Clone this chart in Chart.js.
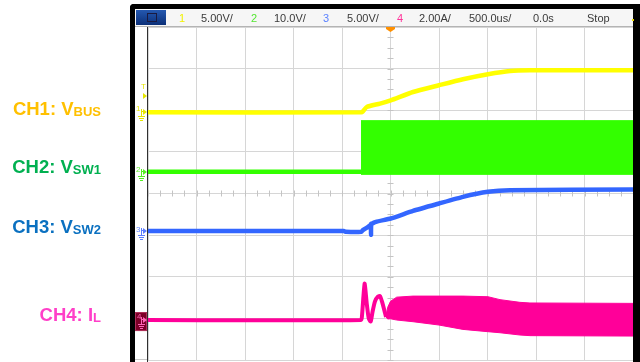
<!DOCTYPE html>
<html>
<head>
<meta charset="utf-8">
<script src="https://cdn.jsdelivr.net/npm/chart.js@4.4.0/dist/chart.umd.min.js"></script>
<style>
  html, body { margin:0; padding:0; background:#fff; }
  #wrap { position:relative; width:640px; height:362px; overflow:hidden; font-family:"Liberation Sans", Arial, sans-serif; }
  #scope { position:absolute; left:0; top:0; }
  #frame { position:absolute; left:130px; top:4px; width:510px; height:370px; box-sizing:border-box;
           border-left:5px solid #000; border-top:5px solid #000; border-right:7px solid #000; border-top-left-radius:4px; }
  .lbl { position:absolute; left:0; width:101px; text-align:right; font-weight:bold; font-size:18.5px; line-height:20px; white-space:nowrap; }
  .lbl sub { font-size:13px; vertical-align:-1px; line-height:0; }
  #bar { position:absolute; left:135px; top:9px; width:498px; height:17px; background:#f6f6f6; border-bottom:1px solid #b4b4b4; }
  #logo { position:absolute; left:1px; top:1px; width:30px; height:15px; background:linear-gradient(#2458b0, #0b2f78); }
  #logo div { position:absolute; left:11px; top:3px; width:8px; height:7px; border:1px solid #1a1a40; }
  .bt { position:absolute; top:3px; font-size:11px; line-height:12px; color:#3a3a3a; white-space:nowrap; }
  .mk { position:absolute; font-size:8px; line-height:8px; }
</style>
</head>
<body>
<div id="wrap">
  <canvas id="scope" width="640" height="362"></canvas>
  <div id="frame"></div>
  <div id="bar">
    <div id="logo"><div></div></div>
    <span class="bt" style="left:44px;color:#f2f200">1</span>
    <span class="bt" style="left:66px">5.00V/</span>
    <span class="bt" style="left:116px;color:#55e633">2</span>
    <span class="bt" style="left:139px">10.0V/</span>
    <span class="bt" style="left:188px;color:#5b82ff">3</span>
    <span class="bt" style="left:212px">5.00V/</span>
    <span class="bt" style="left:262px;color:#ff3399">4</span>
    <span class="bt" style="left:284px">2.00A/</span>
    <span class="bt" style="left:334px">500.0us/</span>
    <span class="bt" style="left:398px">0.0s</span>
    <span class="bt" style="left:452px">Stop</span>
    <div style="position:absolute;left:497px;top:10px;width:2px;height:2px;background:#e8d800"></div>
  </div>

  <div class="lbl" style="top:99px;color:#ffc000">CH1: V<sub>BUS</sub></div>
  <div class="lbl" style="top:157px;color:#00b050">CH2: V<sub>SW1</sub></div>
  <div class="lbl" style="top:217px;color:#0a70c0">CH3: V<sub>SW2</sub></div>
  <div class="lbl" style="top:305px;color:#ff3fc8">CH4: I<sub>L</sub></div>

  <span class="mk" style="left:141px;top:83px;color:#e6e600">T</span>
  <span class="mk" style="left:136px;top:105px;color:#e6e600">1</span>
  <span class="mk" style="left:136px;top:166px;color:#66ee33">2</span>
  <span class="mk" style="left:136px;top:226px;color:#6688ff">3</span>
  <span class="mk" style="left:137px;top:313px;color:#ff66b8">4</span>
</div>
<script>
// time base 500 us/div, trigger at screen centre
const timeMin = -2500, timeMax = 2500, timeStep = 500;
const divMin = -4, divMax = 4;

// per channel: units per division, ground position (div), trace colour
const chScale  = [5, 10, 5, 2];
const chOffset = [1.95, 0.52, -0.9, -3.04];
const chColor  = ['#ffff00', '#33ff00', '#3366ff', '#ff0099'];
const trigLevel = 2.0; // CH1, volts

// CH1 VBUS (V)
const ch1Time  = [-2500, -300, -284, -245, -108, 2, 232, 500, 747, 1005, 1232, 1438, 2500];
const ch1Value = [0, 0, 0.12, 0.64, 1.05, 1.44, 2.44, 3.25, 3.97, 4.57, 4.96, 5.04, 5.04];

// CH2 VSW1 (V): idle, then switching envelope
const ch2IdleTime  = [-2500, -304];
const ch2IdleValue = [0, 0];
const ch2BandTime  = [-304, 2500];
const ch2BandHigh  = [12.3, 12.3];
const ch2BandLow   = [-0.6, -0.6];

// CH3 VSW2 (V)
const ch3Time  = [-2500, -480, -460, -300, -285, -230, -205, -201, -201, -197, -150, 2, 232, 500, 747, 1005, 1232, 2500];
const ch3Value = [0, 0, -0.1, -0.1, 0.1, 0.5, 0.7, 0.85, -0.45, 0.8, 1.1, 1.5, 2.41, 3.3, 4.1, 4.7, 4.9, 4.98];

// CH4 IL (A): start-up ringing, then ripple envelope
const ch4Time  = [-2500, -304, -294, -278, -266, -245, -225, -204, -185, -160, -130, -108, -85, -60, -46];
const ch4Value = [0, 0, 0.2, 1.2, 1.75, 0.8, 0.1, -0.07, 0.4, 0.9, 1.12, 1.15, 0.85, 0.4, 0.15];
const ch4BandTime = [-46, -30, 0, 64, 232, 500, 747, 1005, 1129, 1335, 1438, 2500];
const ch4BandHigh = [0.15, 0.6, 0.9, 1.1, 1.15, 1.15, 1.15, 1.12, 0.98, 0.85, 0.82, 0.8];
const ch4BandLow  = [0.15, 0.05, 0.06, 0.0, -0.08, -0.24, -0.45, -0.56, -0.61, -0.72, -0.75, -0.77];

const toPoints = (times, values, ch) => times.map((t, i) => ({ x: t, y: chOffset[ch] + values[i] / chScale[ch] }));

const line = (data, ch, w, tension) => ({
  data, borderColor: chColor[ch], borderWidth: w, pointRadius: 0, tension: tension || 0,
  borderJoinStyle: 'round', fill: false
});
const band = (data, ch, fill) => ({
  data, borderColor: chColor[ch], backgroundColor: chColor[ch], borderWidth: 1, pointRadius: 0,
  tension: 0, fill: fill
});

// grid ticks on centre axes, edge line, channel markers, trigger marker
const scopeDecor = {
  id: 'scopeDecor',
  beforeDatasetsDraw(chart) {
    const { ctx, chartArea: a, scales: { x, y } } = chart;
    const cx = x.getPixelForValue(0), cy = y.getPixelForValue(0);
    ctx.save();
    ctx.strokeStyle = '#c4c4c4'; ctx.lineWidth = 1;
    ctx.beginPath();
    for (let t = timeMin; t <= timeMax; t += timeStep / 4) {
      const px = Math.round(x.getPixelForValue(t)) + 0.5;
      ctx.moveTo(px, cy - 3); ctx.lineTo(px, cy + 3);
    }
    for (let d = divMin; d <= divMax; d += 0.25) {
      const py = Math.round(y.getPixelForValue(d)) + 0.5;
      ctx.moveTo(cx - 3, py); ctx.lineTo(cx + 3, py);
    }
    ctx.stroke();
    ctx.strokeStyle = '#c8c8c8';
    ctx.beginPath(); ctx.moveTo(135, a.bottom - 0.5); ctx.lineTo(a.left, a.bottom - 0.5); ctx.stroke();
    ctx.strokeStyle = '#303030';
    ctx.beginPath(); ctx.moveTo(a.left - 0.5, a.top); ctx.lineTo(a.left - 0.5, chart.height); ctx.stroke();
    ctx.restore();
  },
  afterDraw(chart) {
    const { ctx, chartArea: a, scales: { x, y } } = chart;
    ctx.save();
    // CH4 marker box
    const y4 = y.getPixelForValue(chOffset[3]);
    ctx.fillStyle = '#7d0028'; ctx.strokeStyle = '#b0305a';
    ctx.fillRect(135, y4 - 8, 12, 19); ctx.strokeRect(135.5, y4 - 7.5, 11, 18);
    const mcol = ['#e6e600', '#55ee22', '#5b7cff', '#ff66b8'];
    chOffset.forEach((off, i) => {
      const py = Math.round(y.getPixelForValue(off));
      ctx.fillStyle = mcol[i]; ctx.strokeStyle = mcol[i]; ctx.lineWidth = 1;
      ctx.beginPath(); ctx.moveTo(143, py - 3); ctx.lineTo(147, py); ctx.lineTo(143, py + 3); ctx.closePath(); ctx.fill();
      ctx.beginPath();
      ctx.moveTo(141.5, py - 3); ctx.lineTo(141.5, py + 4);
      ctx.moveTo(141.5, py - 0.5); ctx.lineTo(144, py - 0.5);
      ctx.moveTo(138, py + 4.5); ctx.lineTo(145, py + 4.5);
      ctx.moveTo(139, py + 6.5); ctx.lineTo(144, py + 6.5);
      ctx.moveTo(140, py + 8.5); ctx.lineTo(143, py + 8.5);
      ctx.stroke();
    });
    // trigger level (CH1)
    const pt = Math.round(y.getPixelForValue(chOffset[0] + trigLevel / chScale[0]));
    ctx.fillStyle = '#e6e600';
    ctx.beginPath(); ctx.moveTo(143, pt - 3); ctx.lineTo(147, pt); ctx.lineTo(143, pt + 3); ctx.closePath(); ctx.fill();
    // trigger time marker
    const tx = x.getPixelForValue(0);
    ctx.fillStyle = '#ff9000';
    ctx.beginPath(); ctx.moveTo(tx - 4.5, a.top); ctx.lineTo(tx + 4.5, a.top); ctx.lineTo(tx + 4.5, a.top + 2);
    ctx.lineTo(tx, a.top + 5); ctx.lineTo(tx - 4.5, a.top + 2); ctx.closePath(); ctx.fill();
    ctx.restore();
  }
};

new Chart(document.getElementById('scope').getContext('2d'), {
  type: 'line',
  data: {
    datasets: [
      line(toPoints(ch1Time, ch1Value, 0), 0, 4.5, 0.2),
      line(toPoints(ch2IdleTime, ch2IdleValue, 1), 1, 4.5),
      band(toPoints(ch2BandTime, ch2BandHigh, 1), 1, '+1'),
      band(toPoints(ch2BandTime, ch2BandLow, 1), 1, false),
      line(toPoints(ch3Time, ch3Value, 2), 2, 4.5, 0.15),
      line(toPoints(ch4Time, ch4Value, 3), 3, 4, 0.2),
      band(toPoints(ch4BandTime, ch4BandHigh, 3), 3, '+1'),
      band(toPoints(ch4BandTime, ch4BandLow, 3), 3, false)
    ]
  },
  options: {
    responsive: false, animation: false, events: [],
    layout: { padding: { left: 148, right: 7, top: 27, bottom: 2 } },
    plugins: { legend: { display: false }, tooltip: { enabled: false }, title: { display: false } },
    scales: {
      x: {
        type: 'linear', min: timeMin, max: timeMax,
        ticks: { display: false, stepSize: timeStep },
        grid: { color: '#d6d6d6', lineWidth: 1, drawTicks: false },
        border: { display: false },
        afterFit: s => { s.height = 0; }
      },
      y: {
        min: divMin, max: divMax,
        ticks: { display: false, stepSize: 1 },
        grid: { color: '#d6d6d6', lineWidth: 1, drawTicks: false },
        border: { display: false },
        afterFit: s => { s.width = 0; }
      }
    }
  },
  plugins: [scopeDecor]
});
</script>
</body>
</html>
